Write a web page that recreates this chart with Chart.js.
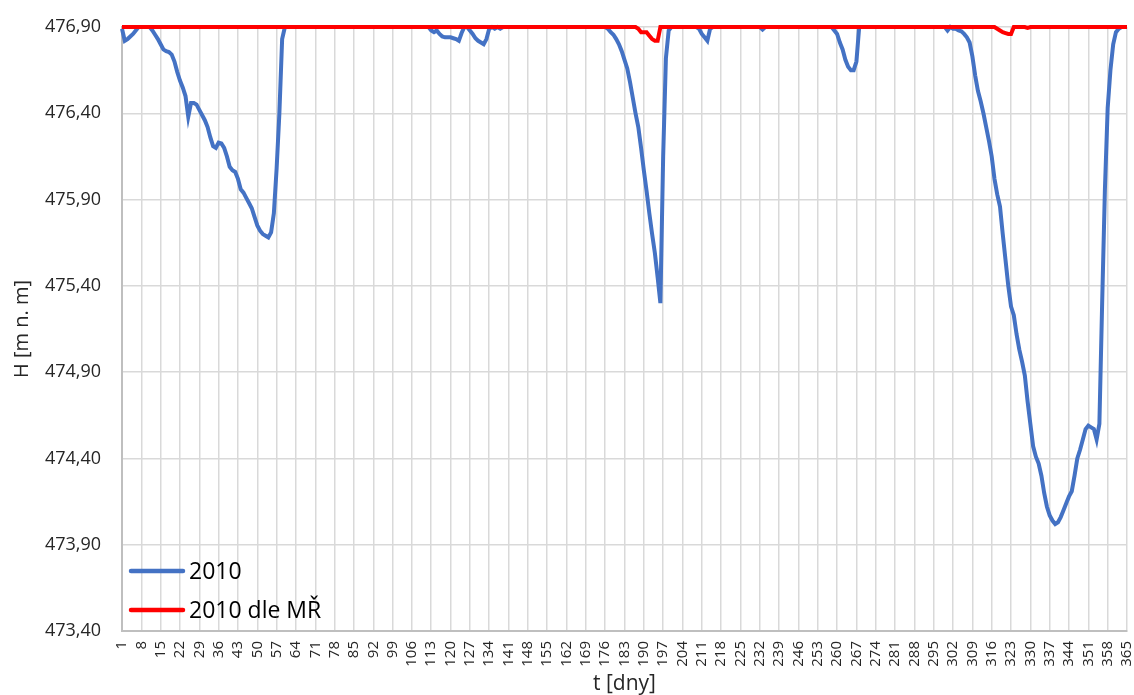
<!DOCTYPE html>
<html lang="cs">
<head>
  <meta charset="utf-8">
  <title>Hladina 2010</title>
  <script src="https://cdn.jsdelivr.net/npm/chart.js"></script>
  <style>
    html, body { margin: 0; padding: 0; background: #fff; }
    #wrap { width: 1134px; height: 695px; }
  </style>
</head>
<body>
<div id="wrap"><canvas id="levelChart" width="1134" height="695"></canvas></div>

<script>
  // day numbers on the category axis, labelled every 7th day
  const days = Array.from({length: 365}, (_, i) => String(i + 1));
  const labelStep = 7;
  const yTicks = [473.4, 473.9, 474.4, 474.9, 475.4, 475.9, 476.4, 476.9];

  // H [m n. m], one value per day
  const level2010 = [
    476.89, 476.82, 476.83, 476.845, 476.86, 476.88, 476.9, 476.9, 476.9, 476.9,
    476.9, 476.88, 476.855, 476.83, 476.8, 476.77, 476.76, 476.755, 476.74, 476.7,
    476.64, 476.59, 476.55, 476.5, 476.38, 476.46, 476.46, 476.45, 476.42, 476.39,
    476.36, 476.32, 476.26, 476.21, 476.2, 476.23, 476.225, 476.2, 476.15, 476.09,
    476.07, 476.06, 476.02, 475.96, 475.94, 475.91, 475.88, 475.85, 475.8, 475.75,
    475.72, 475.7, 475.69, 475.68, 475.71, 475.82, 476.08, 476.4, 476.83, 476.9,
    476.9, 476.9, 476.9, 476.9, 476.9, 476.9, 476.9, 476.9, 476.9, 476.9,
    476.9, 476.9, 476.9, 476.9, 476.9, 476.9, 476.9, 476.9, 476.9, 476.9,
    476.9, 476.9, 476.9, 476.9, 476.9, 476.9, 476.9, 476.9, 476.9, 476.9,
    476.9, 476.9, 476.9, 476.9, 476.9, 476.9, 476.9, 476.9, 476.9, 476.9,
    476.9, 476.9, 476.9, 476.9, 476.9, 476.9, 476.9, 476.9, 476.9, 476.9,
    476.9, 476.9, 476.88, 476.87, 476.88, 476.86, 476.845, 476.84, 476.84, 476.84,
    476.835, 476.83, 476.82, 476.865, 476.9, 476.9, 476.88, 476.86, 476.835, 476.82,
    476.81, 476.8, 476.83, 476.89, 476.9, 476.89, 476.9, 476.89, 476.9, 476.9,
    476.9, 476.9, 476.9, 476.9, 476.9, 476.9, 476.9, 476.9, 476.9, 476.9,
    476.9, 476.9, 476.9, 476.9, 476.9, 476.9, 476.9, 476.9, 476.9, 476.9,
    476.9, 476.9, 476.9, 476.9, 476.9, 476.9, 476.9, 476.9, 476.9, 476.9,
    476.9, 476.9, 476.9, 476.9, 476.9, 476.9, 476.89, 476.87, 476.855, 476.83,
    476.8, 476.76, 476.71, 476.66, 476.58, 476.49, 476.4, 476.32, 476.2, 476.07,
    475.95, 475.82, 475.7, 475.59, 475.45, 475.3, 476.15, 476.72, 476.88, 476.9,
    476.9, 476.9, 476.9, 476.9, 476.9, 476.9, 476.9, 476.9, 476.9, 476.89,
    476.86, 476.84, 476.82, 476.89, 476.9, 476.9, 476.9, 476.9, 476.9, 476.9,
    476.9, 476.9, 476.9, 476.9, 476.9, 476.9, 476.9, 476.9, 476.9, 476.9,
    476.9, 476.9, 476.885, 476.9, 476.9, 476.9, 476.9, 476.9, 476.9, 476.9,
    476.9, 476.9, 476.9, 476.9, 476.9, 476.9, 476.9, 476.9, 476.9, 476.9,
    476.9, 476.9, 476.9, 476.9, 476.9, 476.9, 476.9, 476.9, 476.88, 476.86,
    476.81, 476.77, 476.71, 476.67, 476.65, 476.65, 476.7, 476.9, 476.9, 476.9,
    476.9, 476.9, 476.9, 476.9, 476.9, 476.9, 476.9, 476.9, 476.9, 476.9,
    476.9, 476.9, 476.9, 476.9, 476.9, 476.9, 476.9, 476.9, 476.9, 476.9,
    476.9, 476.9, 476.9, 476.9, 476.9, 476.9, 476.9, 476.9, 476.9, 476.88,
    476.9, 476.89, 476.89, 476.88, 476.875, 476.86, 476.84, 476.81, 476.73, 476.62,
    476.53, 476.47, 476.4, 476.32, 476.24, 476.15, 476.02, 475.93, 475.86, 475.7,
    475.55, 475.4, 475.28, 475.23, 475.12, 475.03, 474.96, 474.88, 474.73, 474.6,
    474.47, 474.41, 474.37, 474.3, 474.2, 474.12, 474.07, 474.04, 474.02, 474.03,
    474.06, 474.1, 474.14, 474.18, 474.21, 474.3, 474.4, 474.45, 474.51, 474.57,
    474.59, 474.58, 474.57, 474.51, 474.6, 475.3, 475.96, 476.43, 476.65, 476.8,
    476.87, 476.89, 476.9, 476.9, 476.9
  ];

  const level2010MR = [
    476.9, 476.9, 476.9, 476.9, 476.9, 476.9, 476.9, 476.9, 476.9, 476.9,
    476.9, 476.9, 476.9, 476.9, 476.9, 476.9, 476.9, 476.9, 476.9, 476.9,
    476.9, 476.9, 476.9, 476.9, 476.9, 476.9, 476.9, 476.9, 476.9, 476.9,
    476.9, 476.9, 476.9, 476.9, 476.9, 476.9, 476.9, 476.9, 476.9, 476.9,
    476.9, 476.9, 476.9, 476.9, 476.9, 476.9, 476.9, 476.9, 476.9, 476.9,
    476.9, 476.9, 476.9, 476.9, 476.9, 476.9, 476.9, 476.9, 476.9, 476.9,
    476.9, 476.9, 476.9, 476.9, 476.9, 476.9, 476.9, 476.9, 476.9, 476.9,
    476.9, 476.9, 476.9, 476.9, 476.9, 476.9, 476.9, 476.9, 476.9, 476.9,
    476.9, 476.9, 476.9, 476.9, 476.9, 476.9, 476.9, 476.9, 476.9, 476.9,
    476.9, 476.9, 476.9, 476.9, 476.9, 476.9, 476.9, 476.9, 476.9, 476.9,
    476.9, 476.9, 476.9, 476.9, 476.9, 476.9, 476.9, 476.9, 476.9, 476.9,
    476.9, 476.9, 476.9, 476.9, 476.9, 476.9, 476.9, 476.9, 476.9, 476.9,
    476.9, 476.9, 476.9, 476.9, 476.9, 476.9, 476.9, 476.9, 476.9, 476.9,
    476.9, 476.9, 476.9, 476.9, 476.9, 476.9, 476.9, 476.9, 476.9, 476.9,
    476.9, 476.9, 476.9, 476.9, 476.9, 476.9, 476.9, 476.9, 476.9, 476.9,
    476.9, 476.9, 476.9, 476.9, 476.9, 476.9, 476.9, 476.9, 476.9, 476.9,
    476.9, 476.9, 476.9, 476.9, 476.9, 476.9, 476.9, 476.9, 476.9, 476.9,
    476.9, 476.9, 476.9, 476.9, 476.9, 476.9, 476.9, 476.9, 476.9, 476.9,
    476.9, 476.9, 476.9, 476.9, 476.9, 476.9, 476.9, 476.89, 476.87, 476.87,
    476.87, 476.85, 476.83, 476.82, 476.82, 476.9, 476.9, 476.9, 476.9, 476.9,
    476.9, 476.9, 476.9, 476.9, 476.9, 476.9, 476.9, 476.9, 476.9, 476.9,
    476.9, 476.9, 476.9, 476.9, 476.9, 476.9, 476.9, 476.9, 476.9, 476.9,
    476.9, 476.9, 476.9, 476.9, 476.9, 476.9, 476.9, 476.9, 476.9, 476.9,
    476.9, 476.9, 476.9, 476.9, 476.9, 476.9, 476.9, 476.9, 476.9, 476.9,
    476.9, 476.9, 476.9, 476.9, 476.9, 476.9, 476.9, 476.9, 476.9, 476.9,
    476.9, 476.9, 476.9, 476.9, 476.9, 476.9, 476.9, 476.9, 476.9, 476.9,
    476.9, 476.9, 476.9, 476.9, 476.9, 476.9, 476.9, 476.9, 476.9, 476.9,
    476.9, 476.9, 476.9, 476.9, 476.9, 476.9, 476.9, 476.9, 476.9, 476.9,
    476.9, 476.9, 476.9, 476.9, 476.9, 476.9, 476.9, 476.9, 476.9, 476.9,
    476.9, 476.9, 476.9, 476.9, 476.9, 476.9, 476.9, 476.9, 476.9, 476.9,
    476.9, 476.9, 476.9, 476.9, 476.9, 476.9, 476.9, 476.9, 476.9, 476.9,
    476.9, 476.9, 476.9, 476.9, 476.9, 476.9, 476.9, 476.89, 476.88, 476.87,
    476.865, 476.86, 476.86, 476.9, 476.9, 476.9, 476.9, 476.9, 476.895, 476.9,
    476.9, 476.9, 476.9, 476.9, 476.9, 476.9, 476.9, 476.9, 476.9, 476.9,
    476.9, 476.9, 476.9, 476.9, 476.9, 476.9, 476.9, 476.9, 476.9, 476.9,
    476.9, 476.9, 476.9, 476.9, 476.9, 476.9, 476.9, 476.9, 476.9, 476.9,
    476.9, 476.9, 476.9, 476.9, 476.9
  ];

  const FONT = '"Open Sans", "Noto Sans", sans-serif';

  // legend drawn inside the plot, bottom left, like the original
  const insideLegend = {
    id: 'insideLegend',
    afterDraw(chart) {
      const {ctx, chartArea} = chart;
      const rows = [chartArea.bottom - 60, chartArea.bottom - 21];
      ctx.save();
      ctx.font = '23px ' + FONT;
      ctx.textBaseline = 'middle';
      ctx.fillStyle = '#000';
      chart.data.datasets.forEach((ds, i) => {
        const y = rows[i];
        const x0 = chartArea.left + 9;
        ctx.beginPath();
        ctx.lineCap = 'round';
        ctx.lineWidth = 4.5;
        ctx.strokeStyle = ds.borderColor;
        ctx.moveTo(x0, y);
        ctx.lineTo(x0 + 52, y);
        ctx.stroke();
        ctx.fillText(ds.label, x0 + 58, y + 1);
      });
      ctx.restore();
    }
  };

  new Chart(document.getElementById('levelChart'), {
    type: 'line',
    data: {
      labels: days,
      datasets: [{
        label: '2010',
        data: level2010,
        borderColor: '#4472C4',
        backgroundColor: '#4472C4',
        borderWidth: 4,
        pointRadius: 0,
        tension: 0,
        clip: false,
        order: 1
      }, {
        label: '2010 dle MŘ',
        data: level2010MR,
        borderColor: '#FF0000',
        backgroundColor: '#FF0000',
        borderWidth: 4,
        pointRadius: 0,
        tension: 0,
        clip: false,
        order: 0
      }]
    },
    options: {
      responsive: false,
      animation: false,
      layout: { padding: { top: 27, right: 7, left: 0, bottom: 0 } },
      plugins: {
        legend: { display: false },
        tooltip: { enabled: false }
      },
      scales: {
        x: {
          type: 'category',
          offset: false,
          afterFit: scale => {
            scale.height = 64;
            scale.paddingLeft = 0;
            scale.paddingRight = 0;
          },
          grid: {
            color: c => (c.index % labelStep === 0 ? '#d9d9d9' : 'rgba(0,0,0,0)'),
            lineWidth: 1.5,
            drawTicks: false
          },
          border: { color: '#bfbfbf', width: 2 },
          ticks: {
            autoSkip: false,
            minRotation: 90,
            maxRotation: 90,
            padding: 10,
            color: '#262626',
            font: { family: FONT, size: 15 },
            callback: (v, i) => (i % labelStep === 0 ? days[i] : '')
          },
          title: {
            display: true,
            text: 't [dny]',
            color: '#262626',
            font: { family: FONT, size: 21, lineHeight: 1 },
            padding: { top: 0, bottom: 0 }
          }
        },
        y: {
          min: 473.4,
          max: 476.9,
          afterFit: scale => {
            scale.width = 122;
            scale.paddingTop = 0;
            scale.paddingBottom = 0;
          },
          afterBuildTicks: scale => { scale.ticks = yTicks.map(v => ({ value: v })); },
          grid: { color: '#d9d9d9', lineWidth: 1.5, drawTicks: false },
          border: { color: '#bfbfbf', width: 2 },
          ticks: {
            padding: 21,
            color: '#262626',
            font: { family: FONT, size: 18 },
            callback: v => v.toFixed(2).replace('.', ',')
          },
          title: {
            display: true,
            text: 'H [m n. m]',
            color: '#262626',
            font: { family: FONT, size: 20, lineHeight: 1.2 },
            padding: { top: 10, bottom: 0 }
          }
        }
      }
    },
    plugins: [insideLegend]
  });
</script>
</body>
</html>
